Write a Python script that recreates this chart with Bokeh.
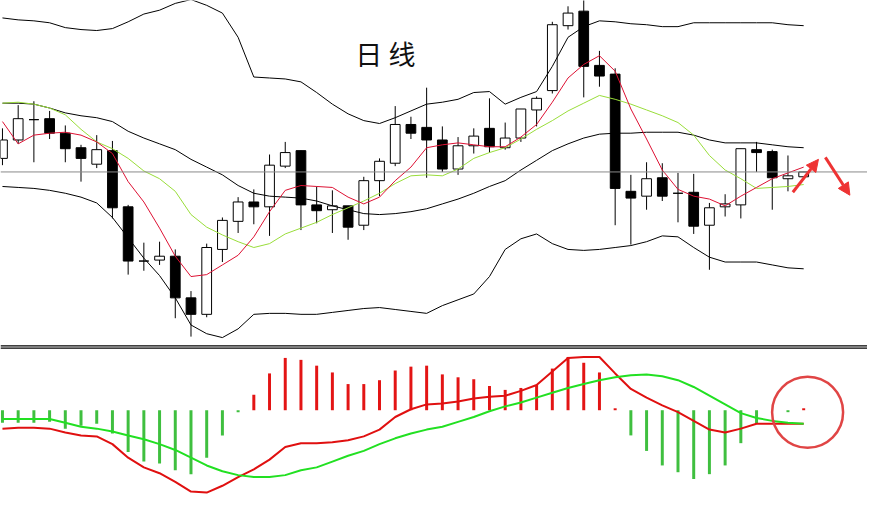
from bokeh.plotting import figure
from bokeh.models import Range1d, Span, Arrow, NormalHead, ColumnDataSource
from bokeh.core.properties import value
from bokeh.embed import file_html
from bokeh.resources import INLINE

# ---------------- data ----------------
bar_index = list(range(52))

open_ = [8.37, 8.56, 8.77, 8.78, 8.63, 8.48, 8.31, 8.45, 7.87, 7.31,
         7.32, 7.36, 6.93, 6.76, 7.43, 7.72, 7.92, 7.87, 8.29, 8.45,
         7.89, 7.84, 7.88, 7.68, 8.14, 8.32, 8.72, 8.69, 8.56, 8.26,
         8.50, 8.68, 8.48, 8.58, 8.87, 9.07, 9.74, 9.89, 9.33, 9.24,
         8.03, 7.98, 8.17, 8.01, 8.02, 7.68, 7.87, 7.89, 8.46, 8.44,
         8.16, 8.18]
high = [8.68, 8.92, 8.96, 8.86, 8.71, 8.51, 8.61, 8.55, 7.89, 7.50,
        7.51, 7.43, 7.00, 7.49, 7.76, 7.97, 8.05, 8.41, 8.54, 8.45,
        8.08, 8.04, 7.88, 8.18, 8.37, 8.91, 8.80, 9.10, 8.70, 8.59,
        8.68, 8.99, 8.74, 8.88, 9.01, 9.78, 9.94, 10.02, 9.48, 9.30,
        8.20, 8.33, 8.32, 8.22, 8.21, 7.91, 8.00, 8.47, 8.54, 8.46,
        8.40, 8.23]
low = [8.30, 8.52, 8.33, 8.57, 8.33, 8.13, 8.27, 7.75, 7.17, 7.21,
       7.27, 6.72, 6.53, 6.73, 7.30, 7.60, 7.69, 7.57, 8.27, 7.63,
       7.70, 7.60, 7.53, 7.63, 7.98, 8.29, 8.57, 8.17, 8.23, 8.20,
       8.42, 8.43, 8.46, 8.54, 8.70, 9.04, 9.70, 9.00, 9.11, 7.68,
       7.48, 7.84, 7.93, 7.71, 7.59, 7.22, 7.77, 7.75, 8.23, 7.84,
       8.03, 8.18]
close = [8.56, 8.78, 8.77, 8.63, 8.47, 8.37, 8.46, 7.86, 7.31, 7.31,
         7.36, 6.93, 6.76, 7.45, 7.73, 7.92, 7.87, 8.30, 8.43, 7.89,
         7.83, 7.88, 7.66, 8.14, 8.34, 8.72, 8.63, 8.56, 8.26, 8.50,
         8.60, 8.49, 8.58, 8.88, 8.99, 9.75, 9.87, 9.32, 9.22, 8.06,
         7.96, 8.16, 7.98, 8.01, 7.67, 7.86, 7.90, 8.47, 8.43, 8.17,
         8.19, 8.23]

boll_upper = [9.82, 9.80, 9.79, 9.77, 9.72, 9.70, 9.69, 9.71, 9.78, 9.86,
              9.90, 9.97, 10.01, 9.95, 9.87, 9.62, 9.21, 9.20, 9.19, 9.16,
              9.05, 8.93, 8.83, 8.76, 8.73, 8.79, 8.86, 8.93, 8.95, 8.98,
              9.05, 9.06, 8.93, 9.00, 9.06, 9.32, 9.62, 9.73, 9.79, 9.78,
              9.76, 9.75, 9.73, 9.73, 9.77, 9.77, 9.77, 9.77, 9.77, 9.77,
              9.75, 9.74]
boll_mid = [8.94, 8.94, 8.93, 8.89, 8.84, 8.81, 8.79, 8.75, 8.65, 8.58,
            8.52, 8.46, 8.36, 8.28, 8.20, 8.09, 8.01, 7.98, 7.97, 7.96,
            7.93, 7.88, 7.84, 7.80, 7.79, 7.80, 7.82, 7.85, 7.90, 7.95,
            8.01, 8.08, 8.14, 8.25, 8.35, 8.45, 8.52, 8.58, 8.62, 8.63,
            8.63, 8.64, 8.64, 8.64, 8.61, 8.56, 8.53, 8.53, 8.53, 8.51,
            8.49, 8.48]
boll_lower = [8.08, 8.07, 8.06, 8.04, 8.01, 7.97, 7.91, 7.76, 7.55, 7.34,
              7.16, 6.93, 6.65, 6.56, 6.52, 6.61, 6.76, 6.77, 6.77, 6.76,
              6.76, 6.78, 6.80, 6.82, 6.83, 6.81, 6.79, 6.77, 6.85, 6.91,
              6.97, 7.15, 7.43, 7.54, 7.59, 7.49, 7.43, 7.42, 7.43, 7.45,
              7.47, 7.51, 7.57, 7.56, 7.45, 7.35, 7.30, 7.30, 7.30, 7.27,
              7.24, 7.23]
ma_fast = [8.75, 8.52, 8.61, 8.63, 8.64, 8.61, 8.54, 8.42, 8.13, 7.92,
           7.65, 7.36, 7.15, 7.17, 7.27, 7.37, 7.56, 7.82, 8.04, 8.09,
           8.08, 8.07, 7.97, 7.90, 7.97, 8.14, 8.28, 8.48, 8.51, 8.53,
           8.51, 8.49, 8.49, 8.59, 8.72, 8.95, 9.20, 9.34, 9.43, 9.27,
           8.88, 8.57, 8.25, 8.05, 7.98, 7.95, 7.88, 7.98, 8.07, 8.16,
           8.22, 8.28]
ma_slow = [8.94, 8.95, 8.93, 8.89, 8.82, 8.67, 8.54, 8.47, 8.37, 8.24,
           8.16, 8.03, 7.79, 7.66, 7.58, 7.51, 7.45, 7.49, 7.59, 7.65,
           7.71, 7.79, 7.86, 7.93, 8.01, 8.11, 8.19, 8.20, 8.19, 8.26,
           8.37, 8.43, 8.48, 8.57, 8.67, 8.76, 8.86, 8.94, 9.02, 8.98,
           8.93, 8.87, 8.81, 8.74, 8.61, 8.40, 8.25, 8.16, 8.06, 8.07,
           8.08, 8.10]

macd_hist = [-0.13, -0.13, -0.13, -0.12, -0.19, -0.16, -0.14, -0.24, -0.43, -0.53,
             -0.55, -0.62, -0.66, -0.49, -0.26, -0.02, 0.16, 0.38, 0.54, 0.52,
             0.46, 0.39, 0.27, 0.27, 0.31, 0.41, 0.45, 0.46, 0.37, 0.34,
             0.32, 0.25, 0.21, 0.23, 0.26, 0.43, 0.55, 0.49, 0.39, 0.02,
             -0.26, -0.42, -0.57, -0.64, -0.71, -0.66, -0.57, -0.34, -0.14, 0.00,
             -0.02, 0.02]
macd_dif = [-0.19, -0.18, -0.18, -0.19, -0.23, -0.26, -0.27, -0.35, -0.49, -0.59,
            -0.65, -0.74, -0.84, -0.85, -0.78, -0.69, -0.61, -0.51, -0.38, -0.34,
            -0.34, -0.33, -0.31, -0.27, -0.20, -0.07, 0.01, 0.06, 0.07, 0.09,
            0.12, 0.14, 0.15, 0.20, 0.26, 0.40, 0.54, 0.55, 0.55, 0.38,
            0.22, 0.13, 0.05, -0.02, -0.11, -0.20, -0.23, -0.19, -0.14, -0.14,
            -0.14, -0.14]
macd_dea = [-0.09, -0.09, -0.09, -0.09, -0.13, -0.17, -0.19, -0.22, -0.26, -0.30,
            -0.35, -0.41, -0.49, -0.57, -0.63, -0.67, -0.69, -0.69, -0.67, -0.62,
            -0.59, -0.53, -0.47, -0.42, -0.35, -0.29, -0.24, -0.20, -0.17, -0.12,
            -0.07, -0.01, 0.04, 0.08, 0.13, 0.18, 0.23, 0.27, 0.31, 0.34,
            0.36, 0.37, 0.35, 0.31, 0.24, 0.15, 0.06, -0.03, -0.08, -0.11,
            -0.13, -0.14]

title_text = ["日 线"]
title_pos = dict(x=[24.375], y=[9.45])
arrow_up = dict(x0=50.31, y0=8.02, x1=51.94, y1=8.36)
arrow_down = dict(x0=52.38, y0=8.38, x1=53.94, y1=7.99)
highlight = dict(x=[51.25], y=[-0.02])
panel_divider = [6.435, 6.412]

# ---------------- figure ----------------
p = figure(width=867, height=494, output_backend="svg", toolbar_location=None,
           x_range=Range1d(-0.125, 55.0625), y_range=Range1d(4.90, 10.00),
           min_border=0, background_fill_color="white", border_fill_color="white",
           outline_line_color=None)
p.extra_y_ranges = {"macd": Range1d(-0.87, 4.23)}
p.axis.visible = False
p.xaxis.visible = False
p.yaxis.visible = False
p.grid.visible = False

up = [c >= o for o, c in zip(open_, close)]
up_src = ColumnDataSource(dict(
    x=[i for i, u in zip(bar_index, up) if u],
    top=[c for c, u in zip(close, up) if u],
    bottom=[o for o, u in zip(open_, up) if u]))
dn_src = ColumnDataSource(dict(
    x=[i for i, u in zip(bar_index, up) if not u],
    top=[o for o, u in zip(open_, up) if not u],
    bottom=[c for c, u in zip(close, up) if not u]))

# last price line
p.add_layout(Span(location=close[-1], dimension="width", line_color="#8a8a8a", line_width=1))

# candles
p.segment(x0=bar_index, y0=low, x1=bar_index, y1=high, line_color="black", line_width=1)
p.vbar(x="x", top="top", bottom="bottom", width=0.62, source=up_src,
       fill_color="white", line_color="black", line_width=1)
p.vbar(x="x", top="top", bottom="bottom", width=0.62, source=dn_src,
       fill_color="black", line_color="black", line_width=1)

# bollinger + moving averages
for band in (boll_upper, boll_mid, boll_lower):
    p.line(bar_index, band, line_color="black", line_width=1)
p.line(bar_index, ma_slow, line_color="#99dd3a", line_width=1)
p.line(bar_index, ma_fast, line_color="#dd1133", line_width=1)

p.text(x=title_pos["x"], y=title_pos["y"], text=title_text,
       text_font=value("Noto Sans CJK SC"), text_font_size="27px",
       text_align="center", text_baseline="middle", text_color="#111111")

for a in (arrow_up, arrow_down):
    p.add_layout(Arrow(end=NormalHead(size=12, fill_color="#ee3333", line_color="#ee3333"),
                       x_start=a["x0"], y_start=a["y0"], x_end=a["x1"], y_end=a["y1"],
                       line_color="#ee3333", line_width=3))

# divider
for loc in panel_divider:
    p.add_layout(Span(location=loc, dimension="width", line_color="black", line_width=1.2))

# MACD
pos = [max(v, 0) for v in macd_hist]
neg = [min(v, 0) for v in macd_hist]
p.vbar(x=[i for i, v in zip(bar_index, macd_hist) if v > 0],
       top=[v for v in macd_hist if v > 0], bottom=0, width=0.19,
       y_range_name="macd", fill_color="#e31414", line_color=None)
p.vbar(x=[i for i, v in zip(bar_index, macd_hist) if v < 0],
       top=0, bottom=[v for v in macd_hist if v < 0], width=0.19,
       y_range_name="macd", fill_color="#3fbf3f", line_color=None)
p.line(bar_index, macd_dif, y_range_name="macd", line_color="#e01010", line_width=2)
p.line(bar_index, macd_dea, y_range_name="macd", line_color="#22e022", line_width=2)

p.scatter(x=highlight["x"], y=highlight["y"], y_range_name="macd", marker="circle",
          size=71, fill_color=None, line_color="#e04545", line_width=2.5)

open("out.html", "w").write(file_html(p, INLINE))
